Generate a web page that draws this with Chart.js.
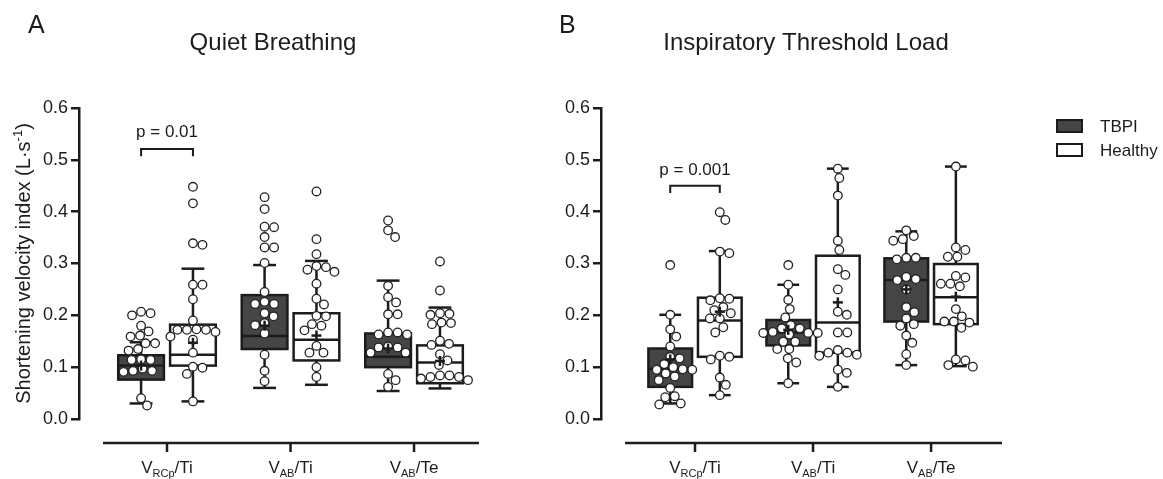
<!DOCTYPE html>
<html>
<head>
<meta charset="utf-8">
<script src="https://cdn.jsdelivr.net/npm/chart.js@4.4.1/dist/chart.umd.min.js"></script>
<style>
  html, body { margin: 0; padding: 0; background: #fff; }
  #wrap { position: relative; width: 1163px; height: 479px; overflow: hidden; }
  #wrapA { position: absolute; left: 0; top: 0; width: 530px; height: 479px; }
  #wrapB { position: absolute; left: 520px; top: 0; width: 643px; height: 479px; }
</style>
</head>
<body>
<div id="wrap">
  <div id="wrapA"><canvas id="chartA" width="530" height="479"></canvas></div>
  <div id="wrapB"><canvas id="chartB" width="643" height="479"></canvas></div>
</div>
<script>
// categories as [main, subscript, rest] so the label can be drawn with a subscript
const categories = [['V', 'RCp', '/Ti'], ['V', 'AB', '/Ti'], ['V', 'AB', '/Te']];
const groups = ['TBPI', 'Healthy'];
const yTicks = [0, 0.1, 0.2, 0.3, 0.4, 0.5, 0.6];

// Quiet breathing – one row per category
const quietTbpi = [
  [0.207, 0.204, 0.200, 0.180, 0.169, 0.161, 0.159, 0.146, 0.146, 0.135, 0.132, 0.115, 0.114, 0.114, 0.097, 0.093, 0.093, 0.091, 0.040, 0.026],
  [0.428, 0.405, 0.371, 0.370, 0.351, 0.331, 0.331, 0.301, 0.245, 0.226, 0.222, 0.222, 0.204, 0.198, 0.185, 0.181, 0.165, 0.124, 0.093, 0.073],
  [0.383, 0.364, 0.351, 0.257, 0.235, 0.225, 0.202, 0.202, 0.167, 0.167, 0.163, 0.163, 0.140, 0.138, 0.138, 0.128, 0.128, 0.087, 0.075, 0.062]
];
const quietHealthy = [
  [0.448, 0.416, 0.339, 0.336, 0.259, 0.259, 0.231, 0.190, 0.173, 0.172, 0.172, 0.172, 0.168, 0.159, 0.153, 0.128, 0.101, 0.099, 0.087, 0.034],
  [0.439, 0.347, 0.318, 0.295, 0.293, 0.288, 0.284, 0.261, 0.232, 0.221, 0.199, 0.198, 0.183, 0.180, 0.171, 0.141, 0.128, 0.128, 0.100, 0.081],
  [0.304, 0.248, 0.204, 0.203, 0.201, 0.186, 0.185, 0.183, 0.151, 0.145, 0.143, 0.125, 0.113, 0.104, 0.084, 0.084, 0.081, 0.081, 0.078, 0.075]
];
// Inspiratory threshold load
const itlTbpi = [
  [0.297, 0.201, 0.173, 0.159, 0.140, 0.120, 0.117, 0.106, 0.100, 0.096, 0.095, 0.095, 0.088, 0.082, 0.075, 0.060, 0.044, 0.042, 0.030, 0.028],
  [0.297, 0.259, 0.230, 0.212, 0.196, 0.181, 0.175, 0.175, 0.168, 0.166, 0.166, 0.166, 0.163, 0.149, 0.149, 0.135, 0.135, 0.117, 0.109, 0.069],
  [0.364, 0.353, 0.347, 0.344, 0.311, 0.311, 0.308, 0.274, 0.270, 0.268, 0.250, 0.216, 0.206, 0.194, 0.183, 0.180, 0.161, 0.147, 0.125, 0.104]
];
const itlHealthy = [
  [0.399, 0.384, 0.323, 0.320, 0.233, 0.232, 0.229, 0.216, 0.210, 0.204, 0.194, 0.194, 0.177, 0.167, 0.122, 0.120, 0.115, 0.080, 0.066, 0.046],
  [0.483, 0.465, 0.431, 0.344, 0.326, 0.289, 0.278, 0.250, 0.207, 0.201, 0.167, 0.167, 0.133, 0.128, 0.128, 0.124, 0.122, 0.095, 0.089, 0.062],
  [0.487, 0.331, 0.326, 0.313, 0.313, 0.276, 0.273, 0.261, 0.261, 0.256, 0.212, 0.198, 0.188, 0.188, 0.186, 0.176, 0.115, 0.113, 0.104, 0.101]
];

// box stats per category: [whisker low, Q1, median, Q3, whisker high, mean]
const quietTbpiBox = [
  [0.030, 0.076, 0.103, 0.123, 0.148, 0.103],
  [0.060, 0.135, 0.160, 0.239, 0.297, 0.180],
  [0.054, 0.100, 0.120, 0.165, 0.267, 0.136]
];
const quietHealthyBox = [
  [0.034, 0.103, 0.124, 0.182, 0.290, 0.147],
  [0.066, 0.113, 0.153, 0.204, 0.305, 0.161],
  [0.059, 0.069, 0.109, 0.142, 0.215, 0.112]
];
const itlTbpiBox = [
  [0.030, 0.062, 0.097, 0.136, 0.201, 0.115],
  [0.069, 0.142, 0.167, 0.191, 0.259, 0.172],
  [0.104, 0.188, 0.268, 0.310, 0.362, 0.250]
];
const itlHealthyBox = [
  [0.046, 0.120, 0.190, 0.234, 0.324, 0.207],
  [0.062, 0.128, 0.186, 0.315, 0.483, 0.225],
  [0.102, 0.183, 0.235, 0.299, 0.487, 0.236]
];

const FONT = '"Liberation Sans", Arial, Helvetica, sans-serif';
const INK = '#1c1c1c';
const DARK = '#454545';
const groupOffset = [-0.21, 0.21];
const boxWidth = 0.37;
const PX_PER_Y = 518;   // pixels per unit on the y axis
const DOT = 9.4;        // minimum distance between dot centres

// simple beeswarm: push each dot sideways until it no longer overlaps
function swarm(values, center, pxPerX) {
  const placed = [];
  return values.map(v => {
    const py = v * PX_PER_Y;
    let off = 0;
    for (let k = 0; k < 400; k++) {
      const cand = (k % 2 ? 1 : -1) * Math.ceil(k / 2) * 0.5;
      if (placed.every(p => (p.x - cand) ** 2 + (p.y - py) ** 2 >= DOT * DOT)) { off = cand; break; }
    }
    placed.push({ x: off, y: py });
    return { x: center + off / pxPerX, y: v };
  });
}

function line(ctx, x1, y1, x2, y2) {
  ctx.beginPath(); ctx.moveTo(x1, y1); ctx.lineTo(x2, y2); ctx.stroke();
}

function boxPlugin(cfg) {
  return {
    id: 'boxes',
    beforeDatasetsDraw(chart) {
      const { ctx, scales: { x, y } } = chart;
      ctx.save();
      ctx.strokeStyle = INK;
      ctx.lineWidth = 2.5;
      ctx.lineCap = 'butt';
      cfg.boxes.forEach((stats, g) => {
        stats.forEach((s, c) => {
          const cx = x.getPixelForValue(c + 1 + groupOffset[g]);
          const half = (x.getPixelForValue(boxWidth) - x.getPixelForValue(0)) / 2;
          const cap = half * 0.5;
          const [lo, q1, med, q3, hi] = s.map(v => y.getPixelForValue(v));
          line(ctx, cx, hi, cx, q3);
          line(ctx, cx, q1, cx, lo);
          line(ctx, cx - cap, hi, cx + cap, hi);
          line(ctx, cx - cap, lo, cx + cap, lo);
          ctx.fillStyle = g === 0 ? DARK : '#fff';
          ctx.fillRect(cx - half, q3, 2 * half, q1 - q3);
          ctx.strokeRect(cx - half, q3, 2 * half, q1 - q3);
          line(ctx, cx - half, med, cx + half, med);
        });
      });
      ctx.restore();
    },
    afterDatasetsDraw(chart) {
      const { ctx, scales: { x, y } } = chart;
      ctx.save();
      ctx.strokeStyle = INK;
      ctx.lineWidth = 2.5;
      cfg.boxes.forEach((stats, g) => {
        stats.forEach((s, c) => {
          const cx = x.getPixelForValue(c + 1 + groupOffset[g]);
          const my = y.getPixelForValue(s[5]);
          line(ctx, cx - 5, my, cx + 5, my);
          line(ctx, cx, my - 5, cx, my + 5);
        });
      });
      ctx.restore();
    },
    afterDraw(chart) {
      const { ctx, chartArea, scales: { x, y } } = chart;
      ctx.save();
      ctx.fillStyle = INK;
      ctx.strokeStyle = INK;

      // offset x axis
      const axisY = chartArea.bottom + 24;
      ctx.lineWidth = 2.5;
      line(ctx, chartArea.left + 24, axisY, chartArea.right, axisY);
      categories.forEach((parts, c) => {
        const cx = x.getPixelForValue(c + 1);
        line(ctx, cx, axisY, cx, axisY + 9);
        ctx.font = '17px ' + FONT;
        const w1 = ctx.measureText(parts[0]).width;
        const w3 = ctx.measureText(parts[2]).width;
        ctx.font = '11px ' + FONT;
        const w2 = ctx.measureText(parts[1]).width;
        let sx = cx - (w1 + w2 + w3) / 2;
        const base = axisY + 30;
        ctx.textAlign = 'left';
        ctx.textBaseline = 'alphabetic';
        ctx.font = '17px ' + FONT;
        ctx.fillText(parts[0], sx, base);
        ctx.font = '11px ' + FONT;
        ctx.fillText(parts[1], sx + w1, base + 4);
        ctx.font = '17px ' + FONT;
        ctx.fillText(parts[2], sx + w1 + w2, base);
      });

      // significance bracket
      const [top, leg, textV] = cfg.pBracket;
      const bx1 = x.getPixelForValue(1 + groupOffset[0]);
      const bx2 = x.getPixelForValue(1 + groupOffset[1]);
      ctx.lineWidth = 2;
      ctx.beginPath();
      ctx.moveTo(bx1, y.getPixelForValue(leg));
      ctx.lineTo(bx1, y.getPixelForValue(top));
      ctx.lineTo(bx2, y.getPixelForValue(top));
      ctx.lineTo(bx2, y.getPixelForValue(leg));
      ctx.stroke();
      ctx.font = '17px ' + FONT;
      ctx.textAlign = 'center';
      ctx.fillText(cfg.pText, (bx1 + bx2) / 2, y.getPixelForValue(textV));

      // panel letter and title
      ctx.font = '25px ' + FONT;
      ctx.textAlign = 'left';
      ctx.fillText(cfg.letter, cfg.letterX, 33);
      ctx.font = '24px ' + FONT;
      ctx.textAlign = 'center';
      ctx.fillText(cfg.title, cfg.titleX, 50);

      // y axis title with superscript
      if (cfg.yTitle) {
        ctx.translate(30, (chartArea.top + chartArea.bottom) / 2);
        ctx.rotate(-Math.PI / 2);
        ctx.font = '20px ' + FONT;
        const a = 'Shortening velocity index (L·s', b = '-1', d = ')';
        const wa = ctx.measureText(a).width, wd = ctx.measureText(d).width;
        ctx.font = '13px ' + FONT;
        const wb = ctx.measureText(b).width;
        let sx = -(wa + wb + wd) / 2;
        ctx.textAlign = 'left';
        ctx.font = '20px ' + FONT;
        ctx.fillText(a, sx, 0);
        ctx.font = '13px ' + FONT;
        ctx.fillText(b, sx + wa, -8);
        ctx.font = '20px ' + FONT;
        ctx.fillText(d, sx + wa + wb, 0);
        ctx.setTransform(1, 0, 0, 1, 0, 0);
      }

      // legend
      if (cfg.legendX) {
        ctx.lineWidth = 2;
        ctx.font = '17px ' + FONT;
        ctx.textAlign = 'left';
        groups.forEach((name, g) => {
          const ly = 120 + g * 24;
          ctx.fillStyle = g === 0 ? DARK : '#fff';
          ctx.fillRect(cfg.legendX, ly, 25, 12);
          ctx.strokeRect(cfg.legendX, ly, 25, 12);
          ctx.fillStyle = INK;
          ctx.fillText(name, cfg.legendX + 43, ly + 12);
        });
      }
      ctx.restore();
    }
  };
}

function makePanel(canvasId, cfg) {
  const datasets = groups.map((name, g) => ({
    label: name,
    data: cfg.values[g].flatMap((vals, c) => swarm(vals, c + 1 + groupOffset[g], cfg.pxPerX)),
    pointRadius: 4.3,
    pointBackgroundColor: '#fff',
    pointBorderColor: '#222',
    pointBorderWidth: 1.3,
    showLine: false,
    clip: false
  }));

  return new Chart(document.getElementById(canvasId), {
    type: 'scatter',
    data: { datasets },
    options: {
      responsive: false,
      animation: false,
      events: [],
      layout: { padding: cfg.padding },
      plugins: { legend: { display: false }, tooltip: { enabled: false } },
      scales: {
        x: { type: 'linear', display: false, min: cfg.xMin, max: cfg.xMax },
        y: {
          min: 0,
          max: 0.6,
          afterFit: s => { s.width = 60; },
          afterBuildTicks: s => { s.ticks = yTicks.map(v => ({ value: v })); },
          border: { display: true, color: INK, width: 2.5 },
          grid: { drawOnChartArea: false, drawTicks: true, tickLength: 8, color: INK, lineWidth: 2.5 },
          ticks: {
            padding: 3,
            color: INK,
            font: { family: FONT, size: 18 },
            callback: v => Number(v).toFixed(1)
          }
        }
      }
    },
    plugins: [boxPlugin(cfg)]
  });
}

makePanel('chartA', {
  values: [quietTbpi, quietHealthy],
  boxes: [quietTbpiBox, quietHealthyBox],
  padding: { left: 19, right: 51, top: 108, bottom: 60 },
  xMin: 0.2874, xMax: 3.526, pxPerX: 123.5,
  pText: 'p = 0.01', pBracket: [0.521, 0.507, 0.545],
  letter: 'A', letterX: 28, title: 'Quiet Breathing', titleX: 273,
  yTitle: true
});

makePanel('chartB', {
  values: [itlTbpi, itlHealthy],
  boxes: [itlTbpiBox, itlHealthyBox],
  padding: { left: 21, right: 161, top: 108, bottom: 60 },
  xMin: 0.2034, xMax: 3.601, pxPerX: 118,
  pText: 'p = 0.001', pBracket: [0.450, 0.436, 0.471],
  letter: 'B', letterX: 39, title: 'Inspiratory Threshold Load', titleX: 286,
  yTitle: false, legendX: 537
});
</script>
</body>
</html>
